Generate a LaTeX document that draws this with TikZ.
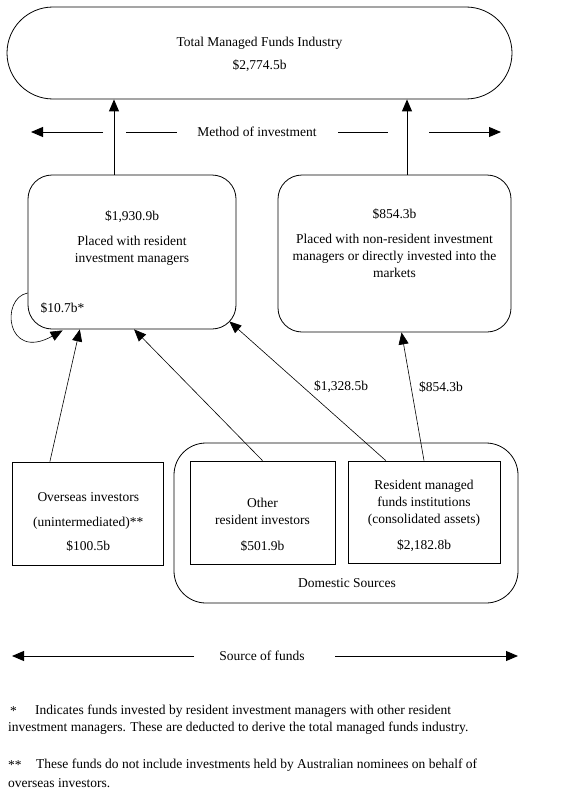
\documentclass[tikz,border=0pt]{standalone}
\usepackage{fontspec}
\setmainfont{Liberation Serif}
\usetikzlibrary{arrows.meta,calc}
\begin{document}
\begin{tikzpicture}[x=1pt,y=-1pt,
  every node/.style={font=\fontsize{13.5}{17}\selectfont, inner sep=0pt},
  box/.style={draw, line width=0.8pt, inner sep=0pt},
  lbl/.style={align=center},
  arr/.style={-{Triangle[length=12pt,width=10pt]}, line width=0.6pt},
  bigarr/.style={-{Triangle[length=12pt,width=10pt]}, line width=0.9pt},
  hline/.style={line width=0.9pt},
]
\path[use as bounding box, fill=white] (0,0) rectangle (567,808);

% boxes
\node[box, rounded corners=46pt, minimum width=505pt, minimum height=92pt] (total) at (259.5,53) {};
\node[box, rounded corners=24pt, minimum width=208pt, minimum height=154pt] (box1) at (132,252) {};
\node[box, rounded corners=24pt, minimum width=233pt, minimum height=157pt] (box2) at (394.5,253.5) {};
\node[box, minimum width=151pt, minimum height=103pt] (over) at (88.3,513.5) {};
\node[box, rounded corners=32pt, minimum width=344pt, minimum height=160pt] (dom) at (346,523) {};
\node[box, minimum width=145pt, minimum height=103pt] (other) at (262.5,512.5) {};
\node[box, minimum width=152pt, minimum height=102pt] (res) at (424,512) {};

% texts
\node[lbl] (totalt) at (259.5,43) {Total Managed Funds Industry};
\node[lbl] (totalv) at (259.5,66) {\$2,774.5b};
\node[lbl] (b1v) at (132,217) {\$1,930.9b};
\node[lbl] (b1t) at (132,250.5) {Placed with resident\\investment managers};
\node[lbl] (self) at (62.5,308) {\$10.7b*};
\node[lbl] (b2v) at (394.5,214) {\$854.3b};
\node[lbl] (b2t) at (394.5,256) {Placed with non-resident investment\\managers or directly invested into the\\markets};
\node[lbl] (ovt1) at (88.3,497) {Overseas investors};
\node[lbl] (ovt2) at (88.3,523) {(unintermediated)**};
\node[lbl] (ovv) at (88.3,546) {\$100.5b};
\node[lbl] (ott) at (262.5,511.5) {Other\\resident investors};
\node[lbl] (otv) at (262.5,546) {\$501.9b};
\node[lbl] (rst) at (424,503.5) {Resident managed\\funds institutions\\(consolidated assets)};
\node[lbl] (rsv) at (424,546) {\$2,182.8b};
\node[lbl] (domt) at (347,583) {Domestic Sources};
\node[lbl] (l1) at (341,387) {\$1,328.5b};
\node[lbl] (l2) at (441,387) {\$854.3b};

% vertical arrows to total
\coordinate (xa) at (114,0);
\coordinate (xb) at (407,0);
\draw[bigarr] (box1.north -| xa) -- (total.south -| xa);
\draw[bigarr] (box2.north -| xb) -- (total.south -| xb);

% method of investment
\node[lbl] (method) at (257,132) {Method of investment};
\coordinate (m0) at (31,132);
\coordinate (m1) at (103,132);
\coordinate (m2) at (126,132);
\coordinate (m3) at (177,132);
\coordinate (m4) at (338,132);
\coordinate (m5) at (388,132);
\coordinate (m6) at (429,132);
\coordinate (m7) at (501,132);
\draw[bigarr] (m1) -- (m0);
\draw[hline] (m2) -- (m3);
\draw[hline] (m4) -- (m5);
\draw[bigarr] (m6) -- (m7);

% flows
\draw[arr] ($(over.north west)!0.247!(over.north east)$) -- ($(box1.south west)!0.25!(box1.south east)$);
\draw[arr] (other.north) -- ($(box1.south west)!0.51!(box1.south east)$);
\draw[arr] ($(res.north west)!0.25!(res.north east)$) -- ($(box1.south east)+(-7,-8)$);
\draw[arr] (res.north) -- ($(box2.south west)!0.53!(box2.south east)$);
\draw[arr] ($(box1.west)+(0,41)$) .. controls (0,298) and (6,362) .. ($(box1.south west)+(35,1)$);

% source of funds
\node[lbl] (source) at (262,656) {Source of funds};
\coordinate (s0) at (12,656);
\coordinate (s1) at (194,656);
\coordinate (s2) at (335,656);
\coordinate (s3) at (518,656);
\draw[bigarr] (s1) -- (s0);
\draw[bigarr] (s2) -- (s3);

% footnotes
\node[anchor=west] (f1s) at (10,711) {*};
\node[anchor=west] (f1a) at (35,711) {Indicates funds invested by resident investment managers with other resident};
\node[anchor=west] (f1b) at (8,728) {investment managers. These are deducted to derive the total managed funds industry.};
\node[anchor=west] (f2s) at (8,765) {**};
\node[anchor=west] (f2a) at (36,765) {These funds do not include investments held by Australian nominees on behalf of};
\node[anchor=west] (f2b) at (8,783) {overseas investors.};
\end{tikzpicture}
\end{document}
